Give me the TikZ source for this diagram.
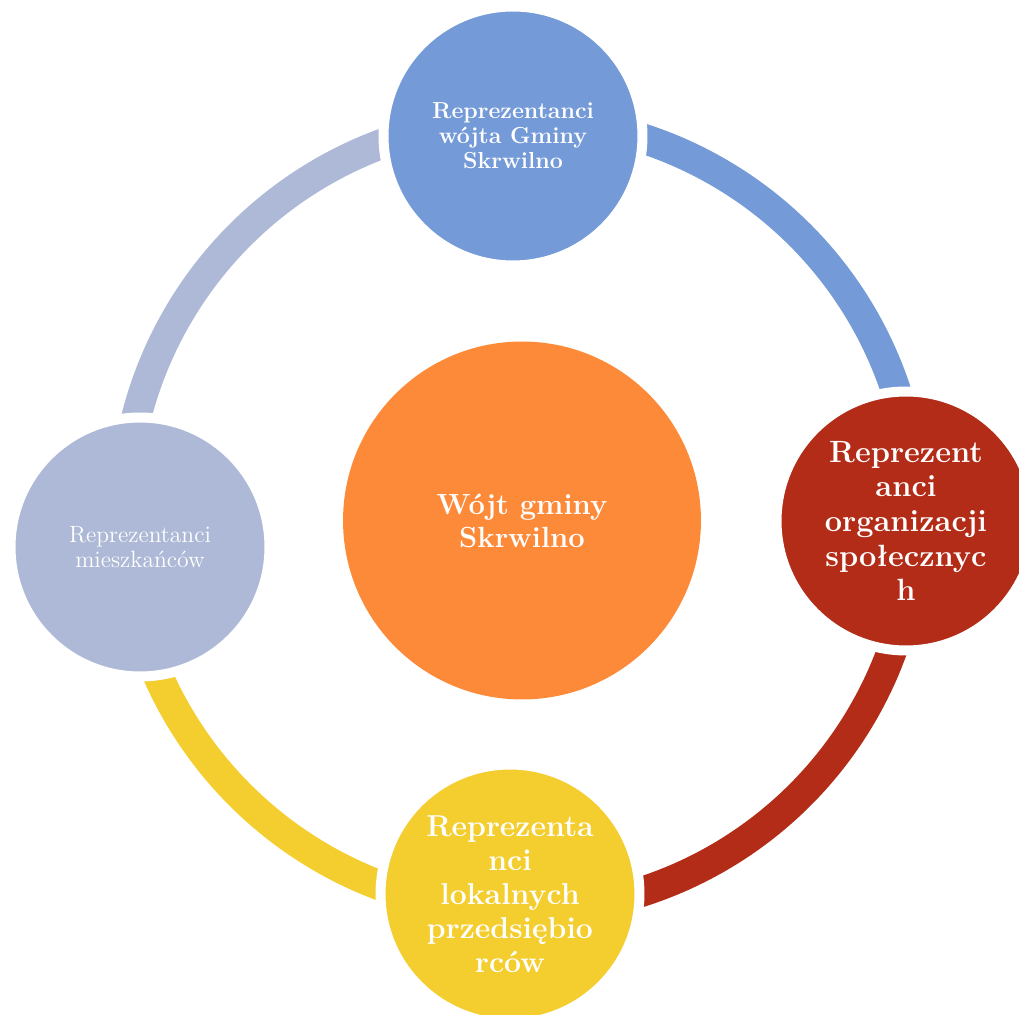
\documentclass[tikz,border=0pt]{standalone}
\usepackage{fontspec}
\definecolor{blueT}{RGB}{116,154,216}
\definecolor{grayL}{RGB}{173,185,214}
\definecolor{orangeC}{RGB}{253,138,56}
\definecolor{redR}{RGB}{178,44,24}
\definecolor{yellowB}{RGB}{244,205,46}
\begin{document}
\begin{tikzpicture}[x=0.02cm,y=0.02cm,
  bubble/.style={circle, fill=#1, draw=white, line width=0.2cm, minimum size=5.18cm, inner sep=0pt, text=white, align=center},
  ringarc/.style={draw=#1, line width=0.6cm}]
\useasboundingbox (0,0) rectangle (1019,1015);
\clip (0,0) rectangle (1019,1015);
\coordinate (RC) at (520,500);
% ring arcs
\draw[ringarc=blueT] (RC) ++(91:396) arc[start angle=91, end angle=-1, radius=396];
\draw[ringarc=redR] (RC) ++(-1:396) arc[start angle=-1, end angle=-91.5, radius=396];
\draw[ringarc=yellowB] (RC) ++(268.5:396) arc[start angle=268.5, end angle=184.8, radius=396];
\draw[ringarc=grayL] (RC) ++(184.8:396) arc[start angle=184.8, end angle=91, radius=396];
% centre
\node[circle, fill=orangeC, minimum size=7.16cm, inner sep=0pt, text=white, align=center,
  font=\bfseries\fontsize{16.6}{18.7}\selectfont] (C) at (522,494.5) {Wójt gminy\\Skrwilno};
% outer bubbles
\node[bubble=blueT, font=\bfseries\fontsize{13.2}{14.2}\selectfont] (T) at (513,879)
  {Reprezentanci\\wójta Gminy\\Skrwilno};
\node[bubble=redR, font=\bfseries\fontsize{17.5}{19.7}\selectfont] (R) at (906,494)
  {Reprezent\\anci\\organizacji\\społecznyc\\h};
\node[bubble=yellowB, font=\bfseries\fontsize{17.2}{19.3}\selectfont] (B) at (510,121)
  {Reprezenta\\nci\\lokalnych\\przedsiębio\\rców};
\node[bubble=grayL, font=\fontsize{13.4}{14.2}\selectfont] (L) at (140,468)
  {Reprezentanci\\mieszkańców};
\end{tikzpicture}
\end{document}
